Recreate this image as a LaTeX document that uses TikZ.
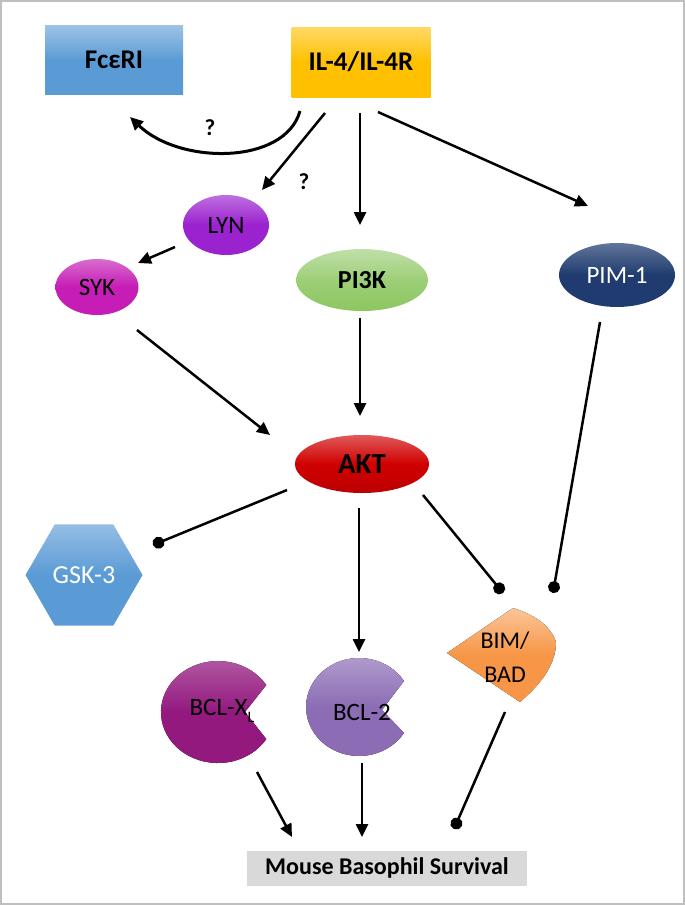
\documentclass[tikz,border=0pt]{standalone}
\usepackage{fontspec}
\setmainfont{Carlito}
\usetikzlibrary{shapes.geometric,arrows.meta,calc}
\definecolor{fceblue}{HTML}{5B9BD5}
\definecolor{ilgold}{HTML}{FFC000}
\definecolor{lynpurple}{HTML}{9B22CF}
\definecolor{sykmag}{HTML}{C51DB5}
\definecolor{pigreen}{HTML}{8CC660}
\definecolor{pimnavy}{HTML}{1F3B6F}
\definecolor{aktred}{HTML}{D00000}
\definecolor{bimorange}{HTML}{F79646}
\definecolor{bclxlcol}{HTML}{93197F}
\definecolor{bcltwocol}{HTML}{8C6DB5}
\definecolor{survgray}{HTML}{D9D9D9}
\definecolor{framegray}{HTML}{BFBFBF}
\tikzset{
  conn/.style={line width=2.5pt, black},
  arr/.style={conn, -{Triangle[length=13pt,width=12pt]}},
  inh/.style={conn, -{Circle[length=12pt]}},
  boxnode/.style={rectangle, inner sep=0pt, font=\fontsize{27}{27}\selectfont\bfseries},
  oval/.style={ellipse, inner sep=0pt, font=\fontsize{25}{25}\selectfont},
  boldoval/.style={ellipse, inner sep=0pt, font=\fontsize{26}{26}\selectfont\bfseries},
  qmark/.style={inner sep=0pt, font=\fontsize{23}{23}\selectfont\bfseries},
  plainlabel/.style={inner sep=0pt, font=\fontsize{25}{25}\selectfont, align=center},
}
\begin{document}
\begin{tikzpicture}[x=1pt,y=-1pt]
\path[use as bounding box] (0,0) rectangle (685,905);
\draw[framegray, line width=2pt] (1,1) rectangle (684,904);

% top boxes
\node[boxnode, top color=fceblue!60!white, bottom color=fceblue, middle color=fceblue, minimum width=138pt, minimum height=69pt] (fce) at (114,60) {FcεRI};
\node[boxnode, top color=ilgold!60!white, bottom color=ilgold, middle color=ilgold, minimum width=139pt, minimum height=70pt] (il4) at (361,62) {IL-4/IL-4R};

\node[qmark] (q1) at (210,128) {?};
\node[qmark] (q2) at (304,182) {?};

% ovals
\node[oval, top color=lynpurple!65!white, bottom color=lynpurple, middle color=lynpurple, minimum width=86pt, minimum height=60pt] (lyn) at (226,225) {LYN};
\node[oval, top color=sykmag!65!white, bottom color=sykmag, middle color=sykmag, minimum width=83pt, minimum height=56pt] (syk) at (97,287) {SYK};
\node[boldoval, top color=pigreen!55!white, bottom color=pigreen, middle color=pigreen!85!white, minimum width=132pt, minimum height=62pt] (pi3k) at (362,280) {PI3K};
\node[oval, text=white, top color=pimnavy!70!white, bottom color=pimnavy, middle color=pimnavy, minimum width=116pt, minimum height=64pt] (pim) at (617,275) {PIM-1};
\node[boldoval, font=\fontsize{29}{29}\selectfont\bfseries, top color=aktred!65!white, bottom color=aktred!90!black, middle color=aktred, minimum width=134pt, minimum height=58pt] (akt) at (362,464) {AKT};

% GSK-3 hexagon
\node[regular polygon, regular polygon sides=6, inner sep=0pt, minimum size=117pt, text=white, top color=fceblue!65!white, bottom color=fceblue, middle color=fceblue, font=\fontsize{26}{26}\selectfont] (gsk) at (84,575) {GSK-3};

% BIM/BAD
\fill[top color=bimorange!55!white, bottom color=bimorange, middle color=bimorange]
  (447,653) -- (513,608) .. controls (532,614) and (550,624) .. (556,642)
  .. controls (556,668) and (536,688) .. (520,702) -- cycle;
\node[plainlabel, font=\fontsize{24}{24}\selectfont] (bim) at (505,657) {BIM/\\[10pt]BAD};

% pacmen
\fill[top color=bclxlcol!70!white, bottom color=bclxlcol, middle color=bclxlcol]
  (266.3,685) arc[start angle=32, end angle=328, x radius=57pt, y radius=51pt] -- (245,712) -- cycle;
\node[plainlabel] (bclxl) at (222,711) {BCL-X\raisebox{-0.3em}{\fontsize{16}{16}\selectfont L}};
\fill[top color=bcltwocol!65!white, bottom color=bcltwocol, middle color=bcltwocol]
  (404,681) arc[start angle=32, end angle=328, x radius=53pt, y radius=49pt] -- (382,710) -- cycle;
\node[plainlabel] (bcltwo) at (362,712) {BCL-2};

% survival
\node[fill=survgray, inner sep=0pt, minimum width=280pt, minimum height=35pt, font=\fontsize{24}{24}\selectfont\bfseries] (surv) at (387,868) {Mouse Basophil Survival};

% connectors
\draw[arr, line width=3pt] ($(il4)+(-61,49)$) .. controls ($(il4)+(-76,103)$) and ($(fce)+(66,105)$) .. ($(fce)+(16,57)$);
\draw[arr] ($(il4)+(-36,51)$) -- ($(lyn)+(36,-35)$);
\draw[arr] ($(il4)+(-1,51)$) -- ($(pi3k)+(-2,-55)$);
\draw[arr] ($(il4)+(17,50)$) -- ($(pim)+(-29,-69)$);
\draw[arr] ($(lyn)+(-51,22)$) -- ($(syk)+(41,-24)$);
\draw[arr] ($(syk)+(40,43)$) -- ($(akt)+(-92,-29)$);
\draw[arr] ($(pi3k)+(-2,38)$) -- ($(akt)+(-2,-48)$);
\draw[inh] ($(pim)+(-17,47)$) -- ($(bim)+(48,-64)$);
\draw[inh] ($(akt)+(-75,26)$) -- ($(gsk)+(69,-30)$);
\draw[arr] ($(akt)+(-3,44)$) -- ($(bcltwo)+(-3,-60)$);
\draw[inh] ($(akt)+(61,31)$) -- ($(bim)+(-2,-64)$);
\draw[arr] ($(bclxl)+(35,61)$) -- ($(surv)+(-95,-31)$);
\draw[arr] ($(bcltwo)+(0,51)$) -- ($(surv)+(-25,-31)$);
\draw[inh] ($(bim)+(0,55)$) -- ($(surv)+(67,-39)$);
\end{tikzpicture}
\end{document}
